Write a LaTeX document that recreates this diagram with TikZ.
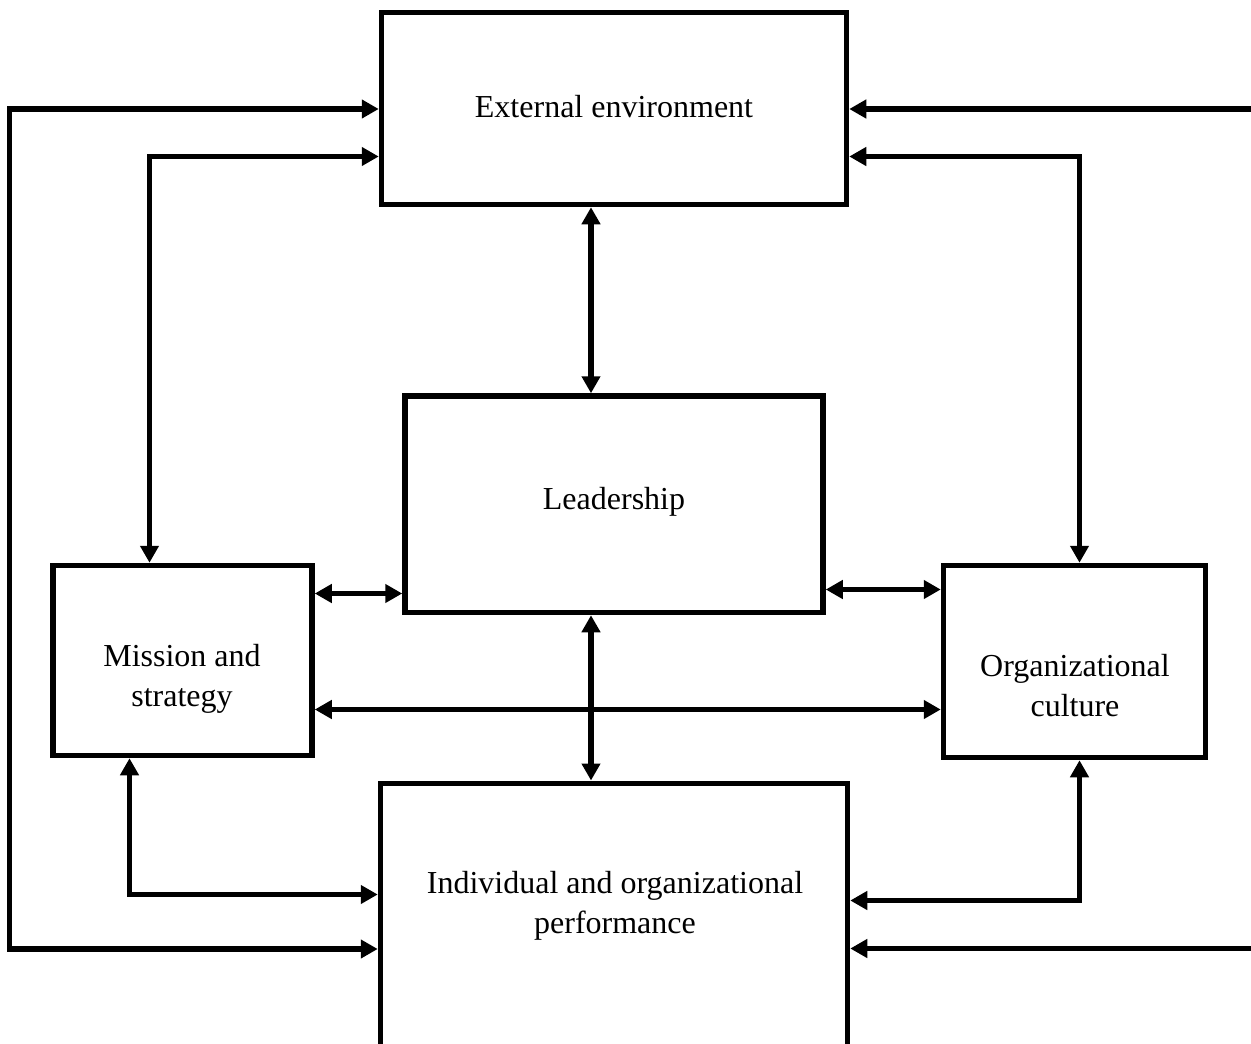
\documentclass[tikz,border=0pt]{standalone}
\usepackage{fontspec}
\setmainfont{Liberation Serif}
\usetikzlibrary{arrows.meta}
\begin{document}
\begin{tikzpicture}[x=1pt,y=-1pt,
  line width=5.5pt,
  box/.style={draw, rectangle, line width=5.5pt, inner sep=0pt},
  txt/.style={align=center, font=\fontsize{32}{40}\selectfont, inner sep=0pt},
  arr/.style={-{Triangle[length=17pt,width=18pt]}},
  darr/.style={{Triangle[length=17pt,width=18pt]}-{Triangle[length=17pt,width=18pt]}},
]
\clip (0,0) rectangle (1251,1044);
\fill[white] (0,0) rectangle (1251,1044);

% boxes
\node[box, minimum width=465pt, minimum height=192pt] (ext) at (614,108.5) {};
\node[box, minimum width=418pt, minimum height=216.5pt] (lead) at (614,504.25) {};
\node[box, minimum width=259pt, minimum height=190pt] (mis) at (182.5,660.5) {};
\node[box, minimum width=262pt, minimum height=192pt] (org) at (1074.5,661.5) {};
\node[box, minimum width=467pt, minimum height=320pt, anchor=north] (perf) at (614,780.5) {};

% labels
\node[txt] (exttext) at (614,107) {External environment};
\node[txt] (leadtext) at (614,502) {Leadership};
\node[txt] (mistext) at (182,679) {Mission and\\strategy};
\node[txt] (orgtext) at (1075,686) {Organizational\\culture};
\node[txt] (perftext) at (615,906) {Individual and organizational\\performance};

% routing points
\coordinate (lt) at (9.5,109);
\coordinate (lb) at (9.5,949);
\coordinate (il) at (149.5,156.5);
\coordinate (rt) at (1251,109);
\coordinate (rb) at (1251,948.5);
\coordinate (ir) at (1079.5,156.5);
\coordinate (vx) at (591,0);
\coordinate (ml) at (0,593.5);
\coordinate (lo) at (0,589.5);
\coordinate (mo) at (0,709.5);
\coordinate (mp) at (129.5,894.5);
\coordinate (op) at (1079.5,900.5);

% connectors
\draw[darr] (ext.west |- lt) -- (lt) -- (lb) -- (perf.west |- lb);
\draw[darr] (ext.west |- il) -- (il) -- (il |- mis.north);
\draw[arr] (rt) -- (ext.east |- rt);
\draw[arr] (rb) -- (perf.east |- rb);
\draw[darr] (ext.east |- ir) -- (ir) -- (ir |- org.north);
\draw[darr] (ext.south -| vx) -- (lead.north -| vx);
\draw[darr] (lead.south -| vx) -- (perf.north -| vx);
\draw[darr] (mis.east |- ml) -- (lead.west |- ml);
\draw[darr] (lead.east |- lo) -- (org.west |- lo);
\draw[darr] (mis.east |- mo) -- (org.west |- mo);
\draw[darr] (mis.south -| mp) -- (mp) -- (perf.west |- mp);
\draw[darr] (org.south -| op) -- (op) -- (perf.east |- op);
\end{tikzpicture}
\end{document}
